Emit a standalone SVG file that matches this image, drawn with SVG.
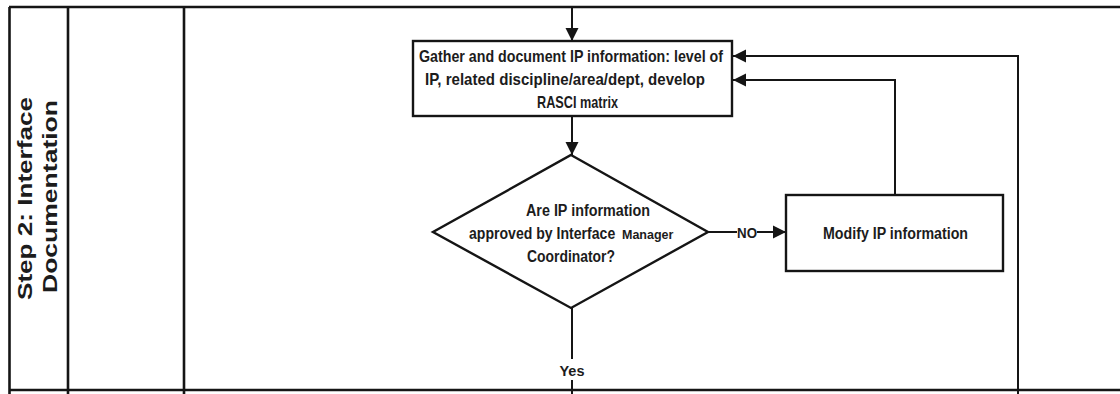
<svg xmlns="http://www.w3.org/2000/svg" width="1120" height="394" viewBox="0 0 1120 394">
  <style>
    .frame { stroke: #151515; stroke-width: 2.6; fill: none; }
    .box { fill: #ffffff; stroke: #151515; stroke-width: 2.4; }
    .conn { fill: none; stroke: #151515; stroke-width: 2; }
    .txt { font-family: "Liberation Sans", Arial, sans-serif; font-weight: bold; fill: #1c1c1c; }
    .lane { font-family: "Liberation Sans", Arial, sans-serif; font-weight: bold; font-size: 20px; fill: #1c1c1c; text-anchor: middle; }
  </style>
  <defs>
    <marker id="arrow" markerUnits="userSpaceOnUse" markerWidth="14" markerHeight="14" viewBox="0 0 14 14" refX="13" refY="7" orient="auto">
      <path d="M0,0.5 L13,7 L0,13.5 Z" fill="#151515"/>
    </marker>
  </defs>

  <rect x="0" y="0" width="1120" height="394" fill="#ffffff"/>

  <!-- swimlane frame -->
  <g id="lane-frame">
    <line class="frame" x1="9" y1="7" x2="1120" y2="7"/>
    <line class="frame" x1="9" y1="390" x2="1120" y2="390"/>
    <line class="frame" x1="9.5" y1="7" x2="9.5" y2="394"/>
    <line class="frame" x1="68" y1="7" x2="68" y2="394"/>
    <line class="frame" x1="184" y1="7" x2="184" y2="394"/>
  </g>

  <g id="lane-title">
    <text class="lane" transform="translate(32,198.5) rotate(-90)" textLength="203" lengthAdjust="spacingAndGlyphs">Step 2: Interface</text>
    <text class="lane" transform="translate(57,196.5) rotate(-90)" textLength="193" lengthAdjust="spacingAndGlyphs">Documentation</text>
  </g>

  <!-- connectors -->
  <g id="connectors">
    <line class="conn" x1="572" y1="7" x2="572" y2="41" marker-end="url(#arrow)"/>
    <line class="conn" x1="572" y1="117" x2="572" y2="155" marker-end="url(#arrow)"/>
    <line class="conn" x1="708" y1="232" x2="737" y2="232"/>
    <line class="conn" x1="757" y1="232" x2="786" y2="232" marker-end="url(#arrow)"/>
    <polyline class="conn" points="895,195 895,80 733,80" marker-end="url(#arrow)"/>
    <polyline class="conn" points="1018,394 1018,56 733,56" marker-end="url(#arrow)"/>
    <line class="conn" x1="572" y1="308" x2="572" y2="359"/>
    <line class="conn" x1="572" y1="380" x2="572" y2="394"/>
    <text class="txt" x="747" y="238" font-size="15" text-anchor="middle" textLength="20" lengthAdjust="spacingAndGlyphs">NO</text>
    <text class="txt" x="572" y="375.5" font-size="15.5" text-anchor="middle" textLength="25" lengthAdjust="spacingAndGlyphs">Yes</text>
  </g>

  <!-- process: gather and document -->
  <g id="gather-ip">
    <rect class="box" x="413" y="41" width="319" height="75"/>
    <text class="txt" x="419" y="62" font-size="17" textLength="304" lengthAdjust="spacingAndGlyphs">Gather and document IP information: level of</text>
    <text class="txt" x="425" y="84.5" font-size="17" textLength="280" lengthAdjust="spacingAndGlyphs">IP, related discipline/area/dept, develop</text>
    <text class="txt" x="537" y="107.5" font-size="17" textLength="81" lengthAdjust="spacingAndGlyphs">RASCI matrix</text>
  </g>

  <!-- decision: approval -->
  <g id="approval-decision">
    <polygon class="box" points="571,155 708,232 571,308 433,232"/>
    <text class="txt" x="526" y="215.5" font-size="16" textLength="124" lengthAdjust="spacingAndGlyphs">Are IP information</text>
    <!-- condensed first run, smaller "Manager" run after it -->
    <text class="txt" transform="translate(469,238.5) scale(0.88,1)" font-size="16">approved by Interface</text>
    <text class="txt" x="622" y="238.5" font-size="12.5">Manager</text>
    <text class="txt" x="527" y="261.5" font-size="16" textLength="88" lengthAdjust="spacingAndGlyphs">Coordinator?</text>
  </g>

  <!-- process: modify -->
  <g id="modify-ip">
    <rect class="box" x="786" y="195" width="217" height="76"/>
    <text class="txt" x="823" y="238.5" font-size="16" textLength="145" lengthAdjust="spacingAndGlyphs">Modify IP information</text>
  </g>
</svg>
